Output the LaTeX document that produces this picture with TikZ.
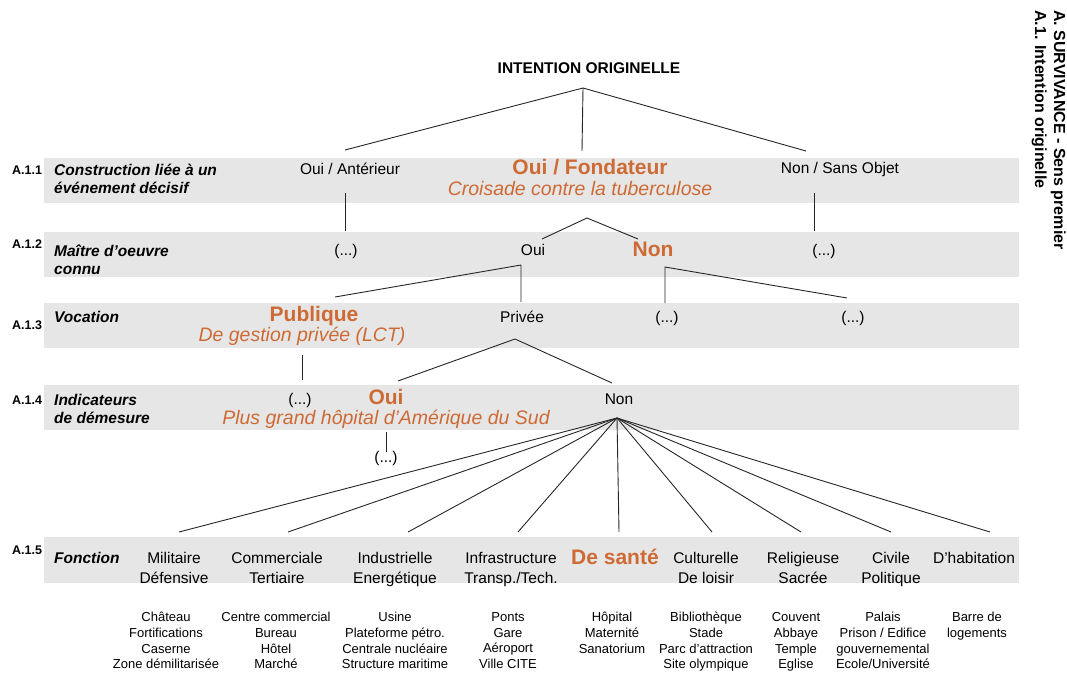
\documentclass[tikz,border=0pt]{standalone}
\usepackage{fontspec}
\setmainfont{Liberation Sans}
\definecolor{ocre}{RGB}{206,106,52}
\definecolor{bande}{RGB}{230,230,230}

\begin{document}
\begin{tikzpicture}[x=1pt, y=-1pt, line join=round,
  txt/.style={inner sep=0pt, font=\fontsize{15.5}{18}\selectfont},
  crit/.style={inner sep=0pt, anchor=west, align=left, font=\fontsize{15.5}{18}\selectfont\bfseries\itshape},
  num/.style={inner sep=0pt, anchor=west, font=\fontsize{12.5}{15}\selectfont\bfseries},
  choix/.style={inner sep=0pt, text=ocre, font=\fontsize{21}{24}\selectfont\bfseries},
  precis/.style={inner sep=0pt, text=ocre, font=\fontsize{19.5}{22}\selectfont\itshape},
  fonc/.style={inner sep=0pt, align=center, execute at end node=\strut, font=\fontsize{15.5}{19.5}\selectfont},
  liste/.style={inner sep=0pt, align=center, execute at end node=\strut, font=\fontsize{13}{15.7}\selectfont},
  lien/.style={line width=0.9pt, black!85}]
\useasboundingbox (0,0) rectangle (1067,672);
% bandes grises
\foreach \ya/\yb in {158/203, 232/277, 303/348, 385/430, 537/583}
  \fill[bande] (44,\ya) rectangle (1019,\yb);

% titres
\node[txt, font=\fontsize{15.5}{18}\selectfont\bfseries] (titre) at (589,68) {INTENTION ORIGINELLE};
\node[inner sep=0pt, rotate=-90, anchor=north west, align=left, font=\fontsize{16}{19}\selectfont\bfseries] (titreA) at (1066,10) {A. SURVIVANCE - Sens premier\\A.1. Intention originelle};

% criteres
\node[num] (n11) at (12,170) {A.1.1};
\node[crit] (c11) at (54,179) {Construction liée à un\\événement décisif};
\node[num] (n12) at (12,244) {A.1.2};
\node[crit] (c12) at (54,260) {Maître d'oeuvre\\connu};
\node[num] (n13) at (12,325) {A.1.3};
\node[crit] (c13) at (54,317) {Vocation};
\node[num] (n14) at (12,400) {A.1.4};
\node[crit] (c14) at (54,409) {Indicateurs\\de démesure};
\node[num] (n15) at (12,550) {A.1.5};
\node[crit] (c15) at (54,558) {Fonction};

% A.1.1
\node[txt] (ant) at (350,169) {Oui / Antérieur};
\node[choix] (fond) at (590,167) {Oui / Fondateur};
\node[precis] (crois) at (580,189) {Croisade contre la tuberculose};
\node[txt] (sans) at (840,169) {Non / Sans Objet};
% A.1.2
\node[txt] (p21) at (346,251) {(...)};
\node[txt] (oui2) at (533,250) {Oui};
\node[choix] (non2) at (653,249) {Non};
\node[txt] (p22) at (824,251) {(...)};
% A.1.3
\node[choix] (pub) at (314,316) {Publique};
\node[precis] (lct) at (302,336) {De gestion privée (LCT)};
\node[txt] (priv) at (522,317) {Privée};
\node[txt] (p31) at (667,318) {(...)};
\node[txt] (p32) at (853,318) {(...)};
% A.1.4
\node[txt] (p41) at (300,400) {(...)};
\node[choix] (oui4) at (386,397) {Oui};
\node[precis] (plus) at (386,419) {Plus grand hôpital d'Amérique du Sud};
\node[txt] (non4) at (619,399) {Non};
\node[txt] (p42) at (386,458) {(...)};
% A.1.5
\node[fonc] (mil) at (174,571) {Militaire\\Défensive};
\node[fonc] (com) at (277,571) {Commerciale\\Tertiaire};
\node[fonc] (ind) at (395,571) {Industrielle\\Energétique};
\node[fonc] (inf) at (511,571) {Infrastructure\\Transp./Tech.};
\node[choix] (sante) at (615,557) {De santé};
\node[fonc] (cul) at (706,571) {Culturelle\\De loisir};
\node[fonc] (rel) at (803,571) {Religieuse\\Sacrée};
\node[fonc] (civ) at (891,571) {Civile\\Politique};
\node[txt] (hab) at (974,558) {D'habitation};
% exemples
\node[liste] (lmil) at (166,643) {Château\\Fortifications\\Caserne\\Zone démilitarisée};
\node[liste] (lcom) at (276,643) {Centre commercial\\Bureau\\Hôtel\\Marché};
\node[liste] (lind) at (395,643) {Usine\\Plateforme pétro.\\Centrale nucléaire\\Structure maritime};
\node[liste] (linf) at (508,643) {Ponts\\Gare\\Aéroport\\Ville CITE};
\node[liste] (lsan) at (612,635) {Hôpital\\Maternité\\Sanatorium};
\node[liste] (lcul) at (706,643) {Bibliothèque\\Stade\\Parc d'attraction\\Site olympique};
\node[liste] (lrel) at (796,643) {Couvent\\Abbaye\\Temple\\Eglise};
\node[liste] (lciv) at (883,643) {Palais\\Prison / Edifice\\gouvernemental\\Ecole/Université};
\node[liste] (lhab) at (977,627) {Barre de\\logements};

% points de branchement
\coordinate (t0) at (583,88);
\coordinate (ant-t) at (345,150);
\coordinate (fond-t) at (582,151);
\coordinate (sans-t) at (806,151);
\coordinate (ant-b) at (345,193);  \coordinate (p21-t) at (345,231);
\coordinate (sans-b) at (814,193); \coordinate (p22-t) at (814,231);
\coordinate (fond-b) at (587,218); \coordinate (oui2-t) at (542,239); \coordinate (non2-t) at (638,239);
\coordinate (oui2-b) at (521,265); \coordinate (pub-t) at (335,297);  \coordinate (priv-t) at (521,302);
\coordinate (non2-b) at (665,267); \coordinate (p31-t) at (665,303);  \coordinate (p32-t) at (847,298);
\coordinate (lct-b) at (302,355);  \coordinate (p41-t) at (302,380);
\coordinate (priv-b) at (515,339); \coordinate (oui4-t) at (398,381); \coordinate (non4-t) at (612,383);
\coordinate (plus-b) at (386,432); \coordinate (p42-t) at (386,452);
\coordinate (non4-b) at (617,418);
\foreach \n/\x in {mil/179, com/288, ind/408, inf/518, sante/619, cul/712, rel/801, civ/891, hab/990}
  \coordinate (\n-t) at (\x,532);

% liens
\draw[lien] (ant-t) -- (t0) -- (sans-t) (t0) -- (fond-t);
\draw[lien] (ant-b) -- (p21-t) (sans-b) -- (p22-t);
\draw[lien] (oui2-t) -- (fond-b) -- (non2-t);
\draw[lien] (pub-t) -- (oui2-b) -- (priv-t);
\draw[lien] (p31-t) -- (non2-b) -- (p32-t);
\draw[lien] (lct-b) -- (p41-t);
\draw[lien] (oui4-t) -- (priv-b) -- (non4-t);
\draw[lien] (plus-b) -- (p42-t);
\foreach \n in {mil,com,ind,inf,sante,cul,rel,civ,hab}
  \draw[lien] (non4-b) -- (\n-t);
\end{tikzpicture}
\end{document}
